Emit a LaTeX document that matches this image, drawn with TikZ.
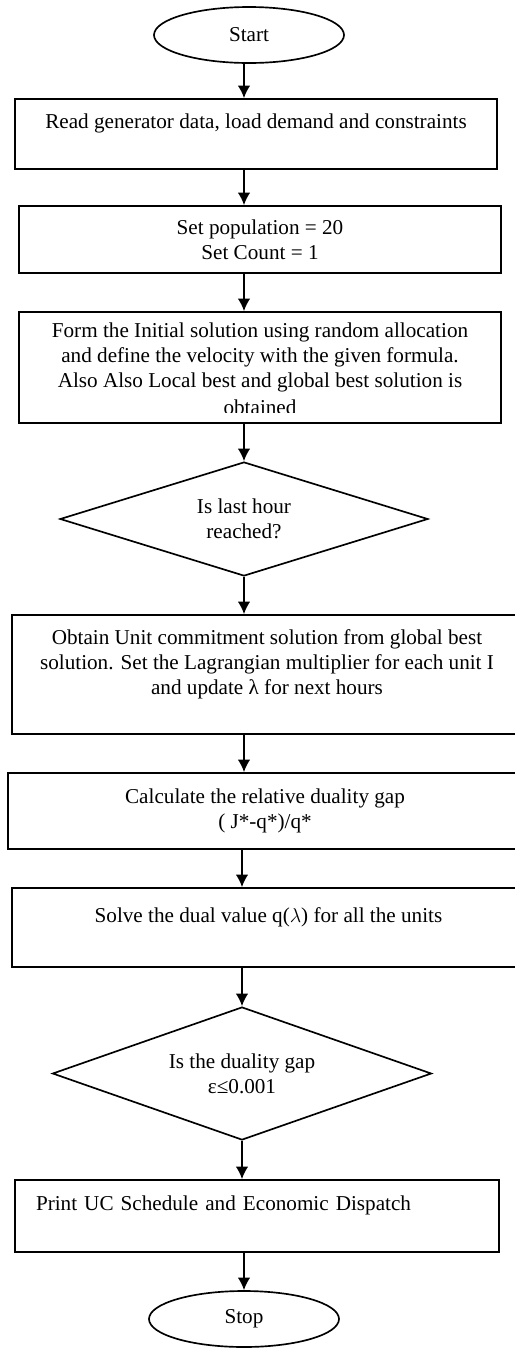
\documentclass[tikz,border=0pt]{standalone}
\usepackage{fontspec}
\setmainfont{Liberation Serif}
\usepackage{trimclip}
\usepackage{tikz}
\usetikzlibrary{shapes,arrows.meta}

\begin{document}
\begin{tikzpicture}[x=0.6pt,y=-0.6pt,every node/.style={font=\fontsize{12.7pt}{15pt}\selectfont}]
		\tikzstyle{boite}=[draw,rectangle,line width=1pt,align=center,inner sep=3pt]
		\tikzstyle{test}=[draw,diamond,line width=1pt,align=center,aspect=3.2,inner sep=0pt]
		\tikzstyle{extremite}=[draw,ellipse,line width=1pt,minimum width=114pt,minimum height=33.6pt]
		\tikzstyle{fleche}=[-{Latex[length=7.5pt,width=7.5pt]},line width=1.1pt]
		\clip (0,0) rectangle (515,1348);
		\node[extremite] (Debut) at (249,35){Start};
		\node[boite,minimum width=289.2pt,minimum height=42pt] (Lecture) at (256,134){Read generator data, load demand and constraints\\ \mbox{}};
		\node[boite,minimum width=289.2pt,minimum height=40.2pt] (Init) at (260,239.5){Set population = 20\\ Set Count = 1};
		\node[boite,minimum width=289.2pt,minimum height=66.6pt] (Essaim) at (260,367.5){Form the Initial solution using random allocation\\ and define the velocity with the given formula.\\ Also Also Local best and global best solution is\\ \clipbox{0pt 1.2pt 0pt 0pt}{obtained}};
		\node[test,minimum width=220.8pt,minimum height=68.4pt] (Heure) at (244,519){Is last hour\\ reached?};
		\node[boite,minimum width=306pt,minimum height=71.4pt] (UC) at (267,674.5){Obtain Unit commitment solution from global best\\ solution. Set the Lagrangian multiplier for each unit I\\ and update λ for next hours\\ \mbox{}};
		\node[boite,minimum width=308.4pt,minimum height=45.6pt] (Ecart) at (265,811){Calculate the relative duality gap\\ ( J*-q*)/q*};
		\node[boite,minimum width=307.8pt,minimum height=47.4pt] (Dual) at (268.5,927.5){Solve the dual value q($\lambda$) for all the units\\ \mbox{}};
		\node[test,minimum width=227.4pt,minimum height=79.8pt] (Conv) at (242,1073.5){Is the duality gap\\ ε≤0.001};
		\node[boite,align=left,text width=265.2pt,inner xsep=12.6pt,minimum height=43.2pt] (Sortie) at (257,1216){Print UC Schedule and Economic Dispatch\\ \mbox{}};
		\node[extremite] (Fin) at (244,1319){Stop};

		\draw[fleche] (Debut.south -| Heure) -- (Lecture.north -| Heure);
		\draw[fleche] (Lecture.south -| Heure) -- (Init.north -| Heure);
		\draw[fleche] (Init.south -| Heure) -- (Essaim.north -| Heure);
		\draw[fleche] (Essaim.south -| Heure) -- (Heure.north);
		\draw[fleche] (Heure.south) -- (UC.north -| Heure);
		\draw[fleche] (UC.south -| Heure) -- (Ecart.north -| Heure);
		\draw[fleche] (Ecart.south -| Conv) -- (Dual.north -| Conv);
		\draw[fleche] (Dual.south -| Conv) -- (Conv.north);
		\draw[fleche] (Conv.south) -- (Sortie.north -| Conv);
		\draw[fleche] (Sortie.south -| Fin) -- (Fin.north);

	\end{tikzpicture}
\end{document}
